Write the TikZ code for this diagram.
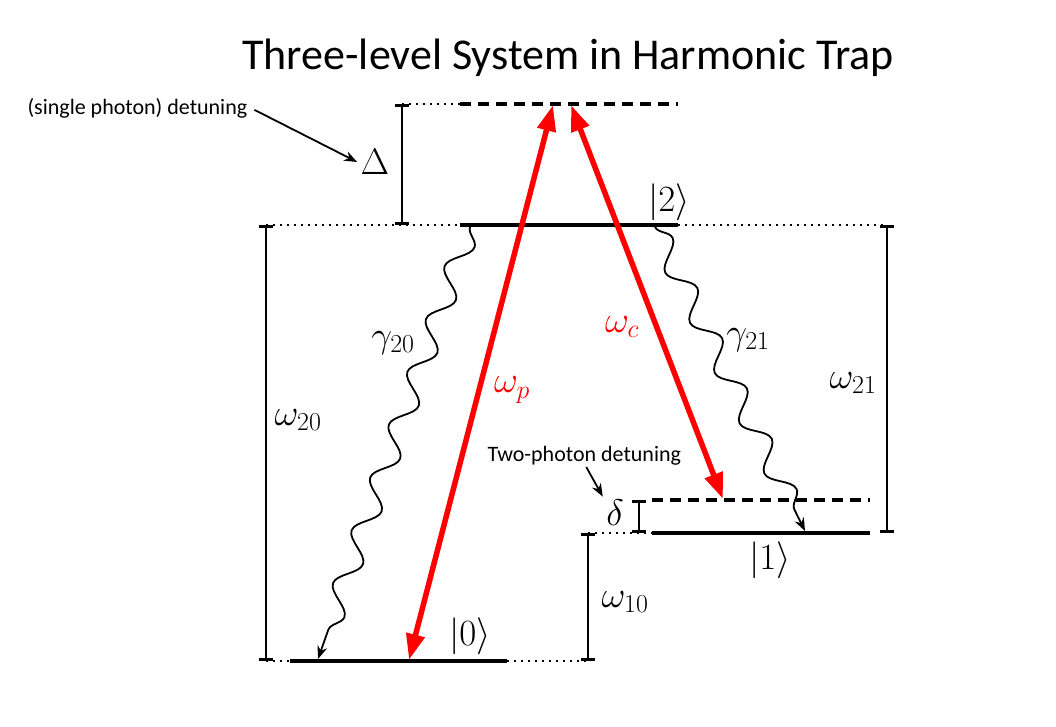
\RequirePackage{fix-cm}
\documentclass[tikz,border=0pt]{standalone}
\usepackage{fontspec}
\setmainfont{Carlito}
\usetikzlibrary{arrows.meta,decorations.pathmorphing}
\begin{document}
\begin{tikzpicture}[x=1pt,y=-1pt,>={Stealth[length=13pt,width=10pt]}]
  \tikzset{level/.style={line width=4pt},
    virt/.style={line width=4pt, dash pattern=on 11pt off 7pt},
    guide/.style={line width=1.8pt, dash pattern=on 2pt off 5pt},
    span/.style={line width=2.6pt, {Bar[width=14pt]}-{Bar[width=14pt]}},
    laser/.style={red, line width=5.5pt, {Triangle[length=26pt,width=18pt]}-{Triangle[length=26pt,width=18pt]}},
    decay/.style={line width=1.8pt, ->, decorate, decoration={snake, amplitude=11pt, segment length=56pt, post length=14pt}},
    pointer/.style={line width=1.8pt, ->},
    lbl/.style={font=\fontsize{37}{39}\selectfont},
    note/.style={font=\fontsize{22}{24}\selectfont}}
  \useasboundingbox (0,0) rectangle (1056,726);
  \node[font=\fontsize{44}{46}\selectfont] (title) at (568,58) {Three-level System in Harmonic Trap};
  % level end points
  \coordinate (vL) at (402,104); \coordinate (vA) at (460,104); \coordinate (vB) at (678,104);
  \coordinate (tL) at (266,225); \coordinate (tA) at (460,225); \coordinate (tB) at (678,225); \coordinate (tR) at (887,225);
  \coordinate (iL) at (588,533); \coordinate (iA) at (652,533); \coordinate (iB) at (870,533); \coordinate (iR) at (887,533);
  \coordinate (dA) at (652,500); \coordinate (dB) at (870,500);
  \coordinate (dT) at (639,500); \coordinate (dD) at (639,533);
  \coordinate (oL) at (266,661); \coordinate (oA) at (290,661); \coordinate (oB) at (507,661); \coordinate (oR) at (588,661);
  % levels
  \draw[guide] (vL) -- (vA);
  \draw[virt] (vA) -- (vB);
  \draw[guide] (tL) -- (tA);
  \draw[level] (tA) -- (tB);
  \draw[guide] (tB) -- (tR);
  \draw[guide] (iL) -- (iA);
  \draw[level] (iA) -- (iB);
  \draw[virt] (dA) -- (dB);
  \draw[guide] (oL) -- (oA);
  \draw[level] (oA) -- (oB);
  \draw[guide] (oB) -- (oR);
  % spacings
  \draw[span] (vL) -- (vL |- tA);
  \draw[span] (tL) -- (oL);
  \draw[span] (iL) -- (oR);
  \draw[span] (dT) -- (dD);
  \draw[span] (tR) -- (iR);
  % lasers
  \coordinate (pTop) at (553,105); \coordinate (pBot) at (409,660);
  \coordinate (cTop) at (571,105); \coordinate (cBot) at (723,499);
  \draw[laser] (pTop) -- (pBot);
  \draw[laser] (cTop) -- (cBot);
  % decays
  \coordinate (g20a) at (470,227); \coordinate (g20b) at (318,659);
  \coordinate (g21a) at (655,227); \coordinate (g21b) at (805,531);
  \draw[decay] (g20a) -- (g20b);
  \draw[decay] (g21a) -- (g21b);
  % labels
  \node[lbl] (Dlt) at (375,162) {$\Delta$};
  \node[lbl] (dlt) at (615,513) {$\delta$};
  \node[lbl] (k2) at (669,202) {$|2\rangle$};
  \node[lbl] (k1) at (770,560) {$|1\rangle$};
  \node[lbl] (k0) at (470,636) {$|0\rangle$};
  \node[lbl] (w20) at (298,420) {$\omega_{20}$};
  \node[lbl] (w21) at (853,383) {$\omega_{21}$};
  \node[lbl] (w10) at (625,602) {$\omega_{10}$};
  \node[lbl] (g20) at (393,343) {$\gamma_{20}$};
  \node[lbl] (g21) at (748,340) {$\gamma_{21}$};
  \node[lbl, red] (wp) at (512,390) {$\omega_p$};
  \node[lbl, red] (wc) at (622,327) {$\omega_c$};
  \node[note, anchor=west] (snote) at (24,108) {(single photon) detuning};
  \node[note, anchor=west] (tnote) at (484,456) {Two-photon detuning};
  \draw[pointer, shorten <=4pt] (snote.east) -- (Dlt.west);
  \draw[pointer] (tnote.south) ++(2pt,2pt) -- (dlt.north west);
\end{tikzpicture}
\end{document}
